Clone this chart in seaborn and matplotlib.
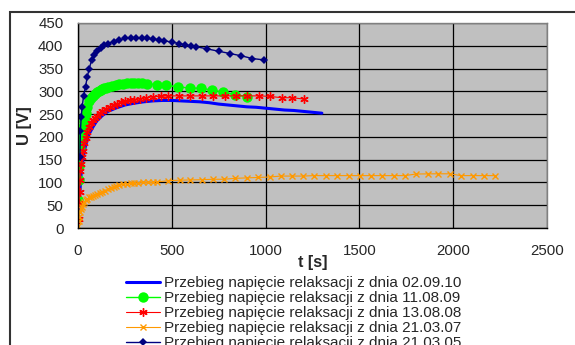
import numpy as np
import pandas as pd
import matplotlib
matplotlib.use("Agg")
import matplotlib.pyplot as plt
from matplotlib.patches import Rectangle
import seaborn as sns

# --- series: time [s] and voltage [V] ---
t_020910 = [0, 5, 10, 15, 20, 30, 40, 50, 60, 80, 100, 130, 160, 200, 250, 300, 350, 400, 450,
            500, 550, 600, 650, 700, 750, 800, 850, 900, 950, 1000, 1050, 1100, 1150, 1200, 1250, 1300]
u_020910 = [20, 50, 80, 110, 135, 160, 180, 195, 207, 222, 235, 247, 256, 263, 270, 274, 277, 279, 280,
            280, 279, 278, 277, 275, 272, 270, 268, 266, 265, 263, 261, 259, 258, 256, 254, 252]

t_110809 = [0, 3, 6, 9, 12, 15, 20, 25, 30, 35, 40, 50, 60, 70, 80, 90, 100, 110, 120, 130, 140,
            150, 160, 180, 200, 220, 240, 260, 280, 300, 320, 340, 370, 420, 470, 535, 597, 654,
            712, 775, 837, 899]
u_110809 = [62, 105, 137, 175, 190, 200, 210, 222, 235, 244, 252, 265, 278, 285, 290, 295, 298, 301,
            303, 305, 307, 308, 310, 312, 314, 316, 317, 318, 319, 319, 319, 318, 316, 315, 313, 310,
            307, 307, 303, 298, 293, 288]

t_130808 = [3, 5, 8, 10, 13, 16, 20, 25, 32, 40, 50, 60, 70, 80, 90, 100, 115, 130, 150, 171, 190,
            210, 230, 250, 275, 300, 330, 360, 400, 440, 480, 538, 597, 660, 717, 781, 842, 901,
            964, 1021, 1085, 1142, 1204]
u_130808 = [20, 55, 79, 105, 125, 140, 155, 170, 186, 198, 210, 222, 230, 236, 241, 245, 252, 257,
            262, 266, 270, 273, 276, 278, 280, 282, 284, 286, 288, 289, 290, 290, 290, 290, 290, 290,
            290, 290, 290, 289, 286, 286, 283]

t_210307 = [0, 3, 6, 10, 15, 20, 25, 30, 40, 50, 60, 70, 80, 90, 100, 115, 130, 145, 160, 175, 190,
            205, 220, 240, 260, 280, 300, 320, 345, 375, 400, 420, 481, 544, 597, 659, 721, 779, 837,
            899, 962, 1023, 1080, 1139, 1201, 1260, 1320, 1380, 1442, 1502, 1561, 1620, 1683, 1743,
            1802, 1864, 1921, 1983, 2040, 2103, 2162, 2222]
u_210307 = [5, 15, 25, 36, 42, 47, 52, 56, 61, 64, 67, 69, 71, 73, 74, 77, 79, 82, 85, 88, 90, 92,
            94, 96, 97, 98, 99, 99, 100, 100, 100, 101, 104, 105, 105.5, 106, 107, 107, 109, 110, 111,
            112, 114, 114, 114, 115, 115, 115, 115, 115, 115, 115, 115, 115, 118.5, 118.8, 119, 119,
            115, 115, 115, 115]

t_210305 = [10, 13, 17, 22, 30, 40, 49, 60, 73, 85, 100, 120, 140, 160, 190, 220, 250, 280, 310, 340,
            370, 400, 430, 460, 500, 540, 570, 600, 630, 690, 750, 810, 870, 930, 990]
u_210305 = [155, 213, 243, 266, 290, 310, 331, 350, 369, 380, 388, 396, 402, 405, 409, 413, 416, 418,
            418, 417, 416, 415, 413, 411, 408, 405, 402, 400, 398, 393, 388, 383, 378, 372, 369]

labels = [
    "Przebieg napięcie relaksacji z dnia 02.09.10",
    "Przebieg napięcie relaksacji z dnia 11.08.09",
    "Przebieg napięcie relaksacji z dnia 13.08.08",
    "Przebieg napięcie relaksacji z dnia 21.03.07",
    "Przebieg napięcie relaksacji z dnia 21.03.05",
]
x_ticks = [0, 500, 1000, 1500, 2000, 2500]
y_ticks = [0, 50, 100, 150, 200, 250, 300, 350, 400, 450]

sns.set_style("white")
plt.rcParams["font.family"] = ["Liberation Sans", "DejaVu Sans"]

fig = plt.figure(figsize=(5.75, 3.45), dpi=100)
ax = fig.add_axes([78 / 575, 1 - 228 / 345, (547 - 78) / 575, (228 - 23) / 345])
ax.set_facecolor("#C0C0C0")

styles = [
    (t_020910, u_020910, dict(color="#0000FF", lw=2.2, marker=None)),
    (t_110809, u_110809, dict(color="#00FF00", lw=1.0, marker="o", markersize=7.5,
                              mec="#00FF00", mfc="#00FF00", mew=0)),
    (t_130808, u_130808, dict(color="#FF0000", lw=0.8, marker=(6, 2, 0), markersize=6,
                              mec="#FF0000", mew=1.0)),
    (t_210307, u_210307, dict(color="#FF9900", lw=0.8, marker="x", markersize=4.5,
                              mec="#FF9900", mew=1.0)),
    (t_210305, u_210305, dict(color="#000080", lw=1.0, marker="D", markersize=4,
                              mec="#000080", mfc="#000080", mew=0)),
]

for (tt, uu, kw), lab in zip(styles, labels):
    df = pd.DataFrame({"t": tt, "U": uu})
    sns.lineplot(data=df, x="t", y="U", ax=ax, label=lab, **kw)

ax.set_xlim(0, 2500)
ax.set_ylim(0, 450)
ax.set_xticks(x_ticks)
ax.set_yticks(y_ticks)
ax.tick_params(axis="both", labelsize=10.8, length=3.5, width=0.8, color="black",
               direction="out")
ax.tick_params(axis="y", pad=7)
ax.tick_params(axis="x", pad=8)
ax.grid(True, color="black", lw=0.9)
ax.set_axisbelow(True)
for side in ["left", "bottom"]:
    ax.spines[side].set_color("black")
    ax.spines[side].set_linewidth(1.0)
for side in ["top", "right"]:
    ax.spines[side].set_color("#808080")
    ax.spines[side].set_linewidth(1.0)
    ax.spines[side].set_visible(True)

ax.set_xlabel("t [s]", fontsize=11.5, fontweight="bold", labelpad=-2)
ax.set_ylabel("U [V]", fontsize=12, fontweight="bold", labelpad=4)

leg = ax.legend(loc="upper left", bbox_to_anchor=(126 / 575, 1 - 276 / 345),
                bbox_transform=fig.transFigure, frameon=False, fontsize=11,
                handlelength=2.2, handletextpad=0.3, labelspacing=0.07,
                borderpad=0, borderaxespad=0)

# outer chart frame
fig.patches.append(Rectangle((10 / 575, -0.1), 1.2, 1 - 12 / 345 + 0.1,
                             transform=fig.transFigure, fill=False,
                             edgecolor="#333333", lw=1.5))

fig.savefig("out.png", dpi=100)
